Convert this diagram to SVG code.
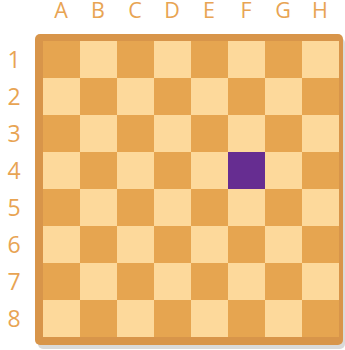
<svg xmlns="http://www.w3.org/2000/svg" width="345" height="350" viewBox="0 0 345 350">
<style>
.lbl{font-family:"Open Sans","Liberation Sans",sans-serif;fill:#E8A453;text-anchor:middle}
.c{font-size:21.5px}
.r{font-size:23px}
.d{fill:#E6A550}
.l{fill:#FDD99B}
</style>
<defs>
<pattern id="chk" x="43" y="41" width="74" height="74" patternUnits="userSpaceOnUse">
<rect width="74" height="74" class="l"/>
<rect width="37" height="37" class="d"/>
<rect x="37" y="37" width="37" height="37" class="d"/>
</pattern>
</defs>
<g id="labels-cols">
<text class="lbl c" x="61" y="17.5">A</text>
<text class="lbl c" x="98" y="17.5">B</text>
<text class="lbl c" x="135" y="17.5">C</text>
<text class="lbl c" x="172" y="17.5">D</text>
<text class="lbl c" x="209" y="17.5">E</text>
<text class="lbl c" x="246" y="17.5">F</text>
<text class="lbl c" x="283" y="17.5">G</text>
<text class="lbl c" x="320" y="17.5">H</text>
</g>
<g id="labels-rows">
<text class="lbl r" x="14" y="67.5">1</text>
<text class="lbl r" x="14" y="104.5">2</text>
<text class="lbl r" x="14" y="141.5">3</text>
<text class="lbl r" x="14" y="178.5">4</text>
<text class="lbl r" x="14" y="215.5">5</text>
<text class="lbl r" x="14" y="252.5">6</text>
<text class="lbl r" x="14" y="289.5">7</text>
<text class="lbl r" x="14" y="326.5">8</text>
</g>
<g id="board">
<rect x="38" y="38" width="307" height="311" rx="5" fill="#DADADA"/>
<rect x="35" y="34" width="308" height="311" rx="5" fill="#D8954A"/>
<rect x="43" y="41" width="296" height="296" fill="url(#chk)"/>
</g>
<g id="highlight">
<rect x="228" y="152" width="37" height="37" fill="#662D91"/>
</g>
<g id="connectors"/>
</svg>
